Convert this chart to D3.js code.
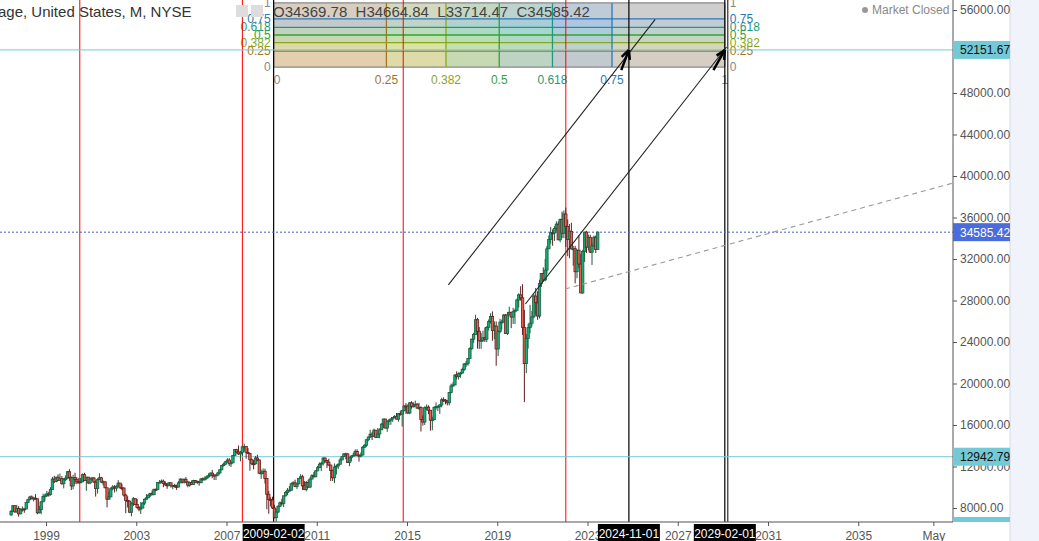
<!DOCTYPE html>
<html><head><meta charset="utf-8">
<script src="https://cdn.jsdelivr.net/npm/d3@7"></script>
<style>body{margin:0;background:#fff;font-family:Arial,"Liberation Sans",sans-serif}</style>
</head><body><svg id="c" width="1039" height="541"></svg>
<script>
const startMonth = "1997-06";
const prevClose = 7331;
const closes = [
7673,8223,7622,
7945,7442,7823,7908,
7907,8546,8800,9063,8900,8952,8883,7539,7843,8592,9117,9181,
9359,9307,9786,10789,10560,10971,10655,10829,10337,10729,10878,11497,
10941,10128,10922,10734,10522,10448,10522,11215,10651,10971,10415,10788,
10887,10495,9879,10735,10912,10502,10523,9950,8848,9075,9852,10022,
9920,10106,10404,9946,9925,9243,8737,8664,7592,8397,8896,8342,
8054,7891,7992,8480,8850,8985,9234,9416,9275,9801,9782,10454,
10488,10584,10358,10226,10188,10435,10140,10174,10080,10027,10428,10783,
10490,10766,10504,10193,10467,10275,10641,10482,10569,10440,10806,10718,
10865,10993,11109,11367,11168,11150,11186,11381,11679,12081,12222,12463,
12622,12269,12354,13063,13628,13409,13212,13358,13896,13930,13372,13265,
12650,12266,12263,12820,12638,11350,11378,11544,10851,9325,8829,8776,
8001,7063,7609,8168,8500,8447,9172,9496,9712,9713,10345,10428,
10067,10325,10857,11009,10137,9774,10466,10015,10788,11118,11006,11578,
11892,12226,12320,12811,12570,12414,12143,11614,10913,11955,12046,12218,
12633,12952,13212,13214,12393,12880,13009,13091,13437,13096,13026,13104,
13861,14054,14579,14840,15116,14910,15500,14810,15130,15546,16086,16577,
15699,16322,16458,16581,16717,16827,16563,17098,17043,17391,17828,17823,
17165,18133,17776,17841,18011,17620,17690,16528,16285,17664,17720,17425,
16466,16517,17685,17774,17787,17930,18432,18401,18308,18142,19124,19763,
19864,20812,20663,20941,21009,21350,21891,21948,22405,23377,24272,24719,
26149,25029,24103,24163,24416,24271,25415,25965,26458,25116,25538,23327,
24999,25916,25929,26593,24815,26600,26864,26403,26917,27046,28051,28538,
28256,25409,21917,24346,25383,25813,26428,28430,27782,26502,29639,30606,
29983,30932,32982,33875,34529,34503,34935,35361,33844,35820,34484,36338,
35132,33893,34678,32977,32990,30775,32845,31510,28726,32733,34590,33147,
34086,32657,33274,34098,32908,34585.42];
const highs = [
7800,8260,8250,
8300,8180,7950,8150,
7980,8570,8900,9180,9210,9070,9340,8900,8200,8650,9380,9380,
9650,9560,10010,11000,11100,11000,11250,11330,11080,10900,11150,11570,
11750,11040,11200,11400,10950,10900,10900,11330,11400,11000,11000,10950,
11000,11000,10650,10880,11350,11000,10650,10550,9950,9600,10000,10200,
10200,10180,10680,10400,10300,9990,9380,9130,8730,8550,9060,8920,
8870,8200,8580,8550,8900,9340,9340,9450,9690,9850,9890,10460,
10700,10750,10740,10570,10420,10480,10400,10240,10340,10250,10590,10870,
10760,10840,10980,10600,10560,10650,10720,10700,10640,10600,10900,10950,
11050,11130,11340,11410,11670,11260,11260,11480,11720,12160,12360,12510,
12800,12800,12440,13120,13690,13700,14020,13500,14000,14200,13700,13770,
13280,12770,12620,13010,13140,12650,11700,11820,11790,10880,9650,9030,
9090,8310,7940,8260,8630,8880,9200,9630,9920,10120,10450,10580,
10730,10400,10900,11260,11200,10600,10600,10720,10950,11250,11450,11630,
12060,12390,12420,12880,12880,12500,12750,12150,11700,12290,12180,12300,
12810,13000,13300,13340,13270,12900,13090,13330,13650,13660,13160,13350,
13970,14150,14590,14890,15540,15340,15640,15500,15710,15680,16170,16590,
16590,16400,16590,16630,16740,16960,17150,17150,17350,17400,17900,18100,
18000,18200,18290,18180,18350,18100,18140,17800,16930,17800,17980,17900,
17400,16800,17790,18170,17900,18020,18620,18670,18500,18400,19150,19990,
20130,20900,21170,21070,21120,21530,21930,22180,22420,23490,24330,24880,
26620,26320,25450,24860,25090,25400,25530,26170,26770,26950,25990,25980,
25160,26240,26160,26700,26700,26900,27400,26880,27300,27210,28170,28700,
29370,29570,27100,24760,25760,27580,27000,28650,29200,28900,30000,30640,
31190,32000,33250,34260,35090,34850,35170,35630,35630,35890,36570,36680,
36950,35820,35370,35490,33270,33270,32910,34280,32500,32890,34600,34710,
34350,34340,33570,34260,34260,34664.84];
const lows = [
7250,7630,7550,
7550,7160,7400,7650,
7540,7890,8490,8750,8880,8630,8800,7400,7470,7400,8590,8690,
9060,9100,9190,9780,10400,10470,10640,10650,10250,9890,10600,10810,
10620,9730,9800,10300,10300,10350,10420,10600,10600,9650,10300,10300,
10580,10420,9100,9390,10700,10400,10170,9900,8060,8800,9090,9700,
9500,9600,10100,9850,9700,9100,7500,8050,7550,7200,8200,8300,
7940,7680,7420,7990,8300,8800,8940,9050,9250,9320,9620,9770,
10400,10400,10000,10130,9850,10150,9960,9810,9960,9750,10000,10400,
10370,10360,10400,10000,10050,10240,10250,10400,10300,10150,10400,10650,
10660,10750,10930,11050,10870,10700,10700,11070,11280,11650,11990,12170,
12350,12050,11950,12350,13000,13250,13100,12500,13000,13450,12750,13200,
11600,12140,11730,12180,12500,11290,10800,11280,10360,7880,7450,8150,
7900,7000,6470,7500,8070,8220,8090,9120,9250,9680,9680,10250,
10000,9840,10300,10800,9750,9750,9600,9930,9940,10750,10950,11000,
11580,11840,11550,12090,12380,11860,12060,10600,10600,10400,11230,11740,
12200,12620,12930,12700,12350,12030,12490,12980,13000,13000,12470,12880,
13100,13780,13900,14440,14750,14550,14850,14760,14780,14720,15540,15700,
15700,15340,16000,16020,16300,16650,16550,16330,16900,15850,17300,17070,
17040,17040,17580,17700,17800,17600,17450,15370,15940,16000,17400,17050,
15450,15500,16450,17480,17330,17060,17700,18230,17990,17890,17880,19050,
19670,19830,20410,20380,20550,20950,21200,21600,21710,22420,23240,23920,
24700,23360,23340,23340,23990,24000,23990,25120,25780,24120,24270,21710,
22640,24840,25200,25900,24780,24680,26620,25340,25740,25740,27040,27320,
27990,24680,18210,21000,23360,24840,25500,26300,26540,26140,26270,29300,
29850,29850,30550,32970,33470,33280,33740,34650,33840,33610,34010,34010,
33150,32270,32070,32910,31350,29650,30140,31160,28720,28660,31720,32570,
32810,32570,31430,33150,32580,33714.47];

const priceTicks = [8000,12000,16000,20000,24000,28000,32000,36000,40000,44000,48000,52000,56000];
const yearTicks = ["1999","2003","2007","2011","2015","2019","2023","2027","2031","2035"];
const redLines = ["2000-07-01","2007-09-15","2014-11-01","2022-01-15"];
const blackLines = ["2009-02-02","2024-11-01","2029-02-01"];
const fibLevels = [0,0.25,0.382,0.5,0.618,0.75,1];
const fibLabels = ["0","0.25","0.382","0.5","0.618","0.75","1"];
const fibColors = ["#888888","#a5761d","#8aa81a","#33a333","#1f9a7c","#2a78b8","#888888"];
const fibBox = {t0:"2009-02-02", t1:"2029-02-01", p0:50500, p1:56680};
const trendLines = [
  [["2016-11-01",29500],["2026-01-01",55100]],
  [["2020-04-01",27660],["2029-03-01",52435]],
];
const arrows = [
  [["2024-07-01",50200],["2024-11-01",52151.67]],
  [["2028-08-01",50200],["2029-02-01",52151.67]],
];
const dashedLine = [["2022-01-01",29100],["2039-03-01",39300]];
const hLines = [{v:52151.67,c:"#74c9d6",label:"52151.67"},{v:12942.79,c:"#74c9d6",label:"12942.79"}];
const lastPrice = 34585.42;
const ohlcText = "O34369.78  H34664.84  L33714.47  C34585.42";

const svg = d3.select("#c");
const parse = d3.timeParse("%Y-%m-%d");
const x = d3.scaleTime().domain([new Date(1999,0,1), new Date(2031,0,1)]).range([46,768]);
const y = d3.scaleLinear().domain([8000,56000]).range([508,10]);
const W = 953, H = 522;

svg.append("rect").attr("x",1010).attr("y",0).attr("width",29).attr("height",541).attr("fill","#f0f3fa");
svg.append("line").attr("x1",1010).attr("x2",1010).attr("y1",0).attr("y2",541).attr("stroke","#d6dae3");

svg.append("clipPath").attr("id","pc").append("rect").attr("x",0).attr("y",0).attr("width",W).attr("height",H);
const g = svg.append("g").attr("clip-path","url(#pc)");

const fx0 = x(parse(fibBox.t0)), fx1 = x(parse(fibBox.t1));
const fy = l => y(fibBox.p0 + l*(fibBox.p1-fibBox.p0));
const fxl = l => fx0 + l*(fx1-fx0);
const bandCols = ["#c8a060","#b8c850","#70c070","#50b0a0","#6090c8","#a0a0a0"];
for (let i=0;i<6;i++){
  g.append("rect").attr("x",fx0).attr("width",fx1-fx0).attr("y",fy(fibLevels[i+1])).attr("height",fy(fibLevels[i])-fy(fibLevels[i+1])).attr("fill",bandCols[i]).attr("opacity",0.28);
  g.append("rect").attr("x",fxl(fibLevels[i])).attr("width",fxl(fibLevels[i+1])-fxl(fibLevels[i])).attr("y",fy(1)).attr("height",fy(0)-fy(1)).attr("fill",bandCols[i]).attr("opacity",0.32);
}
fibLevels.forEach((l,i)=>{
  g.append("line").attr("x1",fx0).attr("x2",fx1).attr("y1",fy(l)).attr("y2",fy(l)).attr("stroke",fibColors[i]).attr("stroke-width",1.3);
  g.append("line").attr("x1",fxl(l)).attr("x2",fxl(l)).attr("y1",fy(0)).attr("y2",fy(1)).attr("stroke",fibColors[i]).attr("stroke-width",1.3);
  const fs = 12;
  g.append("text").attr("x",fx0-3).attr("y",fy(l)+4).attr("text-anchor","end").attr("font-size",fs).attr("fill",fibColors[i]).text(fibLabels[i]);
  g.append("text").attr("x",fx1+5).attr("y",fy(l)+4).attr("font-size",fs).attr("fill",fibColors[i]).text(fibLabels[i]);
  g.append("text").attr("x",fxl(l)).attr("y",fy(0)+17).attr("text-anchor",i==0?"start":"middle").attr("font-size",fs).attr("fill",fibColors[i]).text(fibLabels[i]);
});

redLines.forEach(d=>g.append("line").attr("x1",x(parse(d))).attr("x2",x(parse(d))).attr("y1",0).attr("y2",H).attr("stroke","#f00").attr("stroke-width",1));
blackLines.forEach(d=>g.append("line").attr("x1",x(parse(d))).attr("x2",x(parse(d))).attr("y1",0).attr("y2",H).attr("stroke","#000").attr("stroke-width",1.2));
g.append("line").attr("x1",x(parse("2029-02-01"))+3).attr("x2",x(parse("2029-02-01"))+3).attr("y1",0).attr("y2",H).attr("stroke","#000").attr("stroke-width",1);

hLines.forEach(h=>g.append("line").attr("x1",0).attr("x2",W).attr("y1",y(h.v)).attr("y2",y(h.v)).attr("stroke",h.c).attr("stroke-width",1));
g.append("line").attr("x1",0).attr("x2",W).attr("y1",y(lastPrice)).attr("y2",y(lastPrice)).attr("stroke","#3d5fcf").attr("stroke-dasharray","2,2");

const [sy,sm] = startMonth.split("-").map(Number);
const bw = 2.4;
closes.forEach((c,i)=>{
  const d = new Date(sy, sm-1+i, 15);
  const o = i==0 ? prevClose : closes[i-1];
  const up = c>=o;
  const cx = x(d);
  g.append("line").attr("x1",cx).attr("x2",cx).attr("y1",y(highs[i])).attr("y2",y(lows[i])).attr("stroke",up?"#1e5b3c":"#5a2020").attr("stroke-width",1);
  const top = y(Math.max(o,c)), bot = y(Math.min(o,c));
  g.append("rect").attr("x",cx-bw/2).attr("y",top).attr("width",bw).attr("height",Math.max(1,bot-top))
    .attr("fill",up?"#12b07a":"#f0604f").attr("stroke",up?"#1e5b3c":"#5a2020").attr("stroke-width",0.8);
});

const pt = p=>[x(parse(p[0])),y(p[1])];
trendLines.forEach(l=>{const a=pt(l[0]),b=pt(l[1]);g.append("line").attr("x1",a[0]).attr("y1",a[1]).attr("x2",b[0]).attr("y2",b[1]).attr("stroke","#222").attr("stroke-width",1.1);});
{const a=pt(dashedLine[0]),b=pt(dashedLine[1]);g.append("line").attr("x1",a[0]).attr("y1",a[1]).attr("x2",b[0]).attr("y2",b[1]).attr("stroke","#999").attr("stroke-width",1.1).attr("stroke-dasharray","5,4");}
arrows.forEach(l=>{const a=pt(l[0]),b=pt(l[1]);
  g.append("line").attr("x1",a[0]).attr("y1",a[1]).attr("x2",b[0]).attr("y2",b[1]).attr("stroke","#000").attr("stroke-width",2.5);
  const ang=Math.atan2(b[1]-a[1],b[0]-a[0]);
  const L=10;
  [0.45,-0.45].forEach(da=>g.append("line").attr("x1",b[0]).attr("y1",b[1]).attr("x2",b[0]-L*Math.cos(ang+da)).attr("y2",b[1]-L*Math.sin(ang+da)).attr("stroke","#000").attr("stroke-width",2.5));
});

svg.append("text").attr("x",-2).attr("y",17).attr("font-size",15).attr("fill","#333").text("age, United States, M, NYSE");
[236,251].forEach(px=>svg.append("rect").attr("x",px).attr("y",5).attr("width",12).attr("height",12).attr("fill","#ddd"));
svg.append("text").attr("x",273).attr("y",17).attr("font-size",15).attr("fill","#444").attr("xml:space","preserve").text(ohlcText);
svg.append("circle").attr("cx",865).attr("cy",10).attr("r",3).attr("fill","#999");
svg.append("text").attr("x",872).attr("y",14).attr("font-size",12).attr("fill","#888").text("Market Closed");

svg.append("line").attr("x1",W).attr("x2",W).attr("y1",0).attr("y2",H).attr("stroke","#555");
svg.append("line").attr("x1",0).attr("x2",W).attr("y1",H).attr("y2",H).attr("stroke","#555");
const ya = svg.append("g").attr("transform",`translate(${W},0)`).call(d3.axisRight(y).tickValues(priceTicks).tickSize(4).tickFormat(d3.format(".2f")));
ya.select(".domain").remove();
ya.selectAll("text").attr("font-size",12).attr("fill","#555").attr("font-family","Arial,Liberation Sans");
ya.selectAll("line").attr("stroke","#555");
const xTickDates = yearTicks.map(s=>new Date(+s,0,1)).concat([new Date(2038,4,1)]);
const xa = svg.append("g").attr("transform",`translate(0,${H})`).call(d3.axisBottom(x).tickValues(xTickDates).tickSize(4).tickFormat(d=>d.getMonth()==4?"May":d3.timeFormat("%Y")(d)));
xa.select(".domain").remove();
xa.selectAll("text").attr("font-size",12).attr("fill","#555").attr("dy","0.9em").attr("font-family","Arial,Liberation Sans");
xa.selectAll("line").attr("stroke","#555");

function plabel(v,bg,fg,txt){
  svg.append("rect").attr("x",W).attr("y",y(v)-9).attr("width",57).attr("height",18).attr("fill",bg);
  svg.append("text").attr("x",W+7).attr("y",y(v)+4.5).attr("font-size",12).attr("fill",fg).text(txt);
}
hLines.forEach(h=>plabel(h.v,h.c,"#111",h.label));
plabel(lastPrice,"#4a6cdc","#fff","34585.42");
svg.append("rect").attr("x",W).attr("y",517).attr("width",57).attr("height",5).attr("fill","#74c9d6");
blackLines.forEach(d=>{const cx=x(parse(d));
  svg.append("rect").attr("x",cx-31).attr("y",H+2).attr("width",62).attr("height",19).attr("fill","#000");
  svg.append("text").attr("x",cx).attr("y",H+16).attr("text-anchor","middle").attr("font-size",12).attr("fill","#fff").text(d);
});
</script></body></html>
